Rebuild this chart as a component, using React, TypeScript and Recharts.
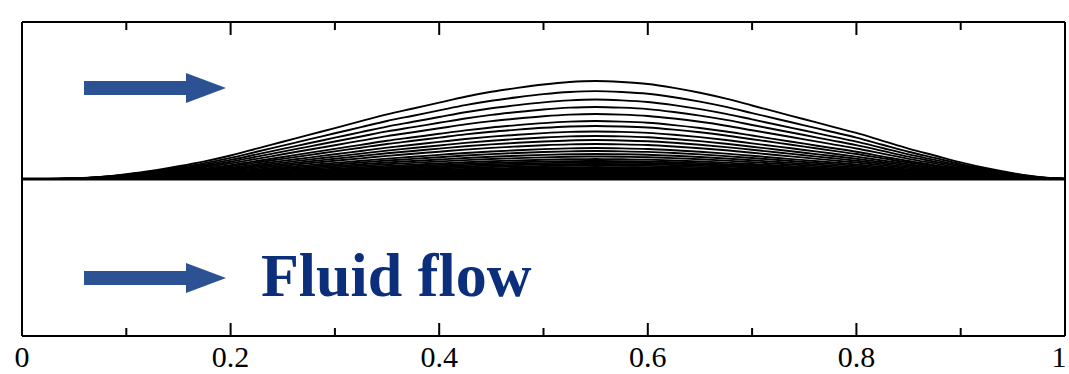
import React from "react";
import { LineChart, Line, XAxis, YAxis, ReferenceLine } from "recharts";

// Normalized bump profile
const xs = [0, 0.025, 0.05, 0.075, 0.1, 0.125, 0.15, 0.175, 0.2, 0.225, 0.25, 0.275, 0.3, 0.325, 0.35, 0.375, 0.4, 0.425, 0.45, 0.475, 0.5, 0.525, 0.55, 0.575, 0.6, 0.625, 0.65, 0.675, 0.7, 0.725, 0.75, 0.775, 0.8, 0.825, 0.85, 0.875, 0.9, 0.925, 0.95, 0.975, 1.0];
const profile = [0, 0, 0.006, 0.022, 0.05, 0.085, 0.13, 0.18, 0.24, 0.31, 0.38, 0.45, 0.52, 0.59, 0.66, 0.72, 0.78, 0.84, 0.89, 0.93, 0.965, 0.99, 1.0, 0.99, 0.97, 0.93, 0.88, 0.82, 0.75, 0.68, 0.61, 0.54, 0.47, 0.39, 0.31, 0.24, 0.17, 0.11, 0.06, 0.02, 0];
// Peak height of each curve
const amplitudes = [0.624, 0.56, 0.506, 0.459, 0.414, 0.369, 0.338, 0.303, 0.274, 0.248, 0.223, 0.197, 0.178, 0.159, 0.143, 0.127, 0.115, 0.105, 0.096, 0.086, 0.076, 0.07, 0.064, 0.057, 0.051, 0.045, 0.041, 0.038, 0.033, 0.03, 0.027, 0.024, 0.022, 0.019, 0.017, 0.015, 0.014, 0.013, 0.011, 0.01, 0.008, 0.007, 0.006, 0.005];
const xTicks = [0, 0.1, 0.2, 0.3, 0.4, 0.5, 0.6, 0.7, 0.8, 0.9, 1];
const xTickLabels: Record<string, string> = { "0": "0", "0.2": "0.2", "0.4": "0.4", "0.6": "0.6", "0.8": "0.8", "1": "1" };
const annotation = "Fluid flow";

const data = xs.map((x, i) => {
  const row: Record<string, number> = { x };
  amplitudes.forEach((a, k) => {
    row[`c${k}`] = a * profile[i];
  });
  return row;
});

const W = 1069;
const H = 374;
const FONT = "'Liberation Serif', 'DejaVu Serif', serif";

const isMajor = (v: number) => Math.round(v * 10) % 2 === 0;

const BottomTick = (props: any) => {
  const { x, y, payload } = props;
  const v = payload.value as number;
  const major = isMajor(v);
  const len = major ? 13 : 8;
  const key = String(Math.round(v * 10) / 10);
  const isLast = v >= 1;
  return (
    <g>
      <line x1={x} x2={x} y1={y} y2={y - len} stroke="#000" strokeWidth={2} />
      {major && (
        <text x={isLast ? x - 6 : x} y={y + 31} textAnchor="middle" fontFamily={FONT} fontSize={30} fill="#000">
          {xTickLabels[key]}
        </text>
      )}
    </g>
  );
};

const TopTick = (props: any) => {
  const { x, y, payload } = props;
  const v = payload.value as number;
  const len = isMajor(v) ? 13 : 8;
  return <line x1={x} x2={x} y1={y} y2={y + len} stroke="#000" strokeWidth={2} />;
};

const ARROW = "#2c5294";

export default function App() {
  return (
    <div style={{ position: "absolute", left: 0, top: 0, width: W, height: H, background: "#fff" }}>
      <LineChart width={W} height={H} data={data} margin={{ top: 0, right: 0, bottom: 0, left: 0 }}>
        <XAxis
          xAxisId={0}
          dataKey="x"
          type="number"
          domain={[0, 1]}
          ticks={xTicks}
          interval={0}
          height={38}
          tickSize={0}
          tickMargin={0}
          tickLine={false}
          axisLine={{ stroke: "#000", strokeWidth: 2 }}
          tick={<BottomTick />}
        />
        <XAxis
          xAxisId="top"
          orientation="top"
          dataKey="x"
          type="number"
          domain={[0, 1]}
          ticks={xTicks}
          interval={0}
          height={22}
          tickSize={0}
          tickMargin={0}
          tickLine={false}
          axisLine={{ stroke: "#000", strokeWidth: 2 }}
          tick={<TopTick />}
        />
        <YAxis yAxisId={0} type="number" domain={[-1, 1]} width={22} tick={false} tickLine={false} axisLine={{ stroke: "#000", strokeWidth: 2 }} />
        <YAxis yAxisId="r" orientation="right" type="number" domain={[-1, 1]} width={4} tick={false} tickLine={false} axisLine={{ stroke: "#000", strokeWidth: 2 }} />
        {amplitudes.map((_, k) => (
          <Line
            key={k}
            xAxisId={0}
            yAxisId={0}
            dataKey={`c${k}`}
            type="monotone"
            stroke="#000"
            strokeWidth={1.9}
            dot={false}
            isAnimationActive={false}
          />
        ))}
        <ReferenceLine xAxisId={0} yAxisId={0} y={0} stroke="#000" strokeWidth={3} />
      </LineChart>
      <svg width={W} height={H} style={{ position: "absolute", left: 0, top: 0, pointerEvents: "none" }}>
        <polygon points="84,81 186,81 186,73 226,88 186,103 186,95 84,95" fill={ARROW} />
        <polygon points="84,271 186,271 186,263 226,278 186,293 186,285 84,285" fill={ARROW} />
        <text x={261} y={296} fontFamily={FONT} fontWeight="bold" fontSize={62} fill="#0c2f7c">
          {annotation}
        </text>
      </svg>
    </div>
  );
}
